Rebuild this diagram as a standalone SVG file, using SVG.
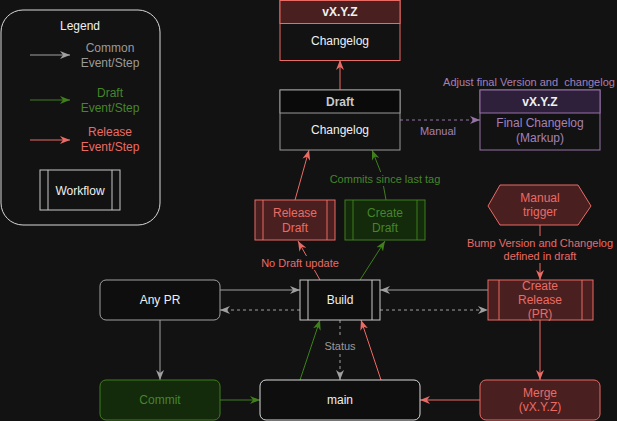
<svg xmlns="http://www.w3.org/2000/svg" width="617" height="421" viewBox="0 0 617 421">
<defs>
<style>
text{font-family:"Liberation Sans",Arial,sans-serif;font-size:12px;text-anchor:middle;dominant-baseline:central}
.lbl{font-size:11px}
.b{font-weight:bold}
.w{fill:#f0f0f0}
.g{fill:#9a9a9a}
.gr{fill:#46852a}
.r{fill:#ea6b66}
.p{fill:#a680b8}
.ln{fill:none;stroke-width:1}
.lg{stroke:#a0a0a0}
.lgr{stroke:#3f7f1c}
.lr{stroke:#ea6b66}
.lp{stroke:#9673a6}
.dash{stroke-dasharray:3 3}
.redbox{fill:#4a1f1f;stroke:#ea6b66}
.grnbox{fill:#132a0b;stroke:#3f7f1c}
.plain{fill:#0e0e0e;stroke:#c8c8c8}
</style>
<marker id="ag" markerWidth="10" markerHeight="8" refX="10" refY="4" orient="auto" markerUnits="userSpaceOnUse"><path d="M0,0 L10,4 L0,8 L3,4 Z" fill="#a0a0a0"/></marker>
<marker id="agr" markerWidth="10" markerHeight="8" refX="10" refY="4" orient="auto" markerUnits="userSpaceOnUse"><path d="M0,0 L10,4 L0,8 L3,4 Z" fill="#3f7f1c"/></marker>
<marker id="ar" markerWidth="10" markerHeight="8" refX="10" refY="4" orient="auto" markerUnits="userSpaceOnUse"><path d="M0,0 L10,4 L0,8 L3,4 Z" fill="#ea6b66"/></marker>
<marker id="ap" markerWidth="10" markerHeight="8" refX="10" refY="4" orient="auto" markerUnits="userSpaceOnUse"><path d="M0,0 L10,4 L0,8 L3,4 Z" fill="#9673a6"/></marker>
</defs>
<rect width="617" height="421" fill="#121212"/>

<g id="legend">
<rect x="1" y="10" width="159" height="215" rx="22" fill="none" stroke="#d8d8d8"/>
<text x="80" y="26" class="w">Legend</text>
<path d="M30,55 H70" class="ln lg" marker-end="url(#ag)"/>
<text x="110" y="48" class="g">Common</text><text x="110" y="63" class="g">Event/Step</text>
<path d="M30,100 H70" class="ln lgr" marker-end="url(#agr)"/>
<text x="110" y="93" class="gr">Draft</text><text x="110" y="108" class="gr">Event/Step</text>
<path d="M30,140 H70" class="ln lr" marker-end="url(#ar)"/>
<text x="110" y="132" class="r">Release</text><text x="110" y="147" class="r">Event/Step</text>
<rect x="40" y="170" width="80" height="40" fill="none" stroke="#c8c8c8"/>
<path d="M48,170 V210 M112,170 V210" stroke="#c8c8c8"/>
<text x="80" y="191" class="w">Workflow</text>
</g>

<g id="connectors">
<path d="M340,90 V60" class="ln lr" marker-end="url(#ar)"/>
<path d="M400,120 H480" class="ln lp dash" marker-end="url(#ap)"/>
<text x="438" y="131" class="lbl p">Manual</text>
<path d="M295,200 L309,150" class="ln lr" marker-end="url(#ar)"/>
<path d="M386,200 L383.5,186 M380.7,172 L372,150" class="ln lgr" marker-end="url(#agr)"/>
<text x="385" y="179" class="lbl gr">Commits since last tag</text>
<path d="M320,280 L314.4,270 M306.5,256 L298,241" class="ln lr" marker-end="url(#ar)"/>
<text x="300" y="263" class="lbl r">No Draft update</text>
<path d="M360,280 L385,241" class="ln lgr" marker-end="url(#agr)"/>
<path d="M220,290 H300" class="ln lg" marker-end="url(#ag)"/>
<path d="M300,310 H220" class="ln lg dash" marker-end="url(#ag)"/>
<path d="M488,290 H380" class="ln lg" marker-end="url(#ag)"/>
<path d="M380,310 H488" class="ln lg dash" marker-end="url(#ag)"/>
<path d="M540,225 V236 M540,263 V280" class="ln lr" marker-end="url(#ar)"/>
<text x="540" y="243" class="lbl r">Bump Version and Changelog</text>
<text x="540" y="256" class="lbl r">defined in draft</text>
<path d="M540,320 V380" class="ln lr" marker-end="url(#ar)"/>
<path d="M480,400 H420" class="ln lr" marker-end="url(#ar)"/>
<path d="M160,320 V380" class="ln lg" marker-end="url(#ag)"/>
<path d="M220,400 H260" class="ln lgr" marker-end="url(#agr)"/>
<path d="M300,380 L320,320" class="ln lgr" marker-end="url(#agr)"/>
<path d="M381,380 L361,320" class="ln lr" marker-end="url(#ar)"/>
<path d="M340,320 V338 M340,354 V380" class="ln lg dash" marker-end="url(#ag)"/>
<text x="340" y="346" class="lbl g">Status</text>
<text x="529" y="82" class="lbl p" style="white-space:pre">Adjust final Version and  changelog</text>
</g>

<g id="release-version">
<rect x="280" y="0.5" width="120" height="60" fill="#121212" stroke="#ea6b66"/>
<rect x="280" y="0.5" width="120" height="23" fill="#4a1f1f" stroke="#ea6b66"/>
<text x="340" y="12" class="b w">vX.Y.Z</text>
<text x="340" y="41" class="w">Changelog</text>
</g>

<g id="draft">
<rect x="280" y="90" width="120" height="60" fill="#121212" stroke="#999"/>
<rect x="280" y="90" width="120" height="23" fill="#0a0a0a" stroke="#999"/>
<text x="340" y="102" class="b" fill="#c8c8c8">Draft</text>
<text x="340" y="130" class="w">Changelog</text>
</g>

<g id="final">
<rect x="480" y="90" width="120" height="60" fill="#121212" stroke="#9673a6"/>
<rect x="480" y="90" width="120" height="23" fill="#2e1f3b" stroke="#9673a6"/>
<text x="540" y="102" class="b w">vX.Y.Z</text>
<text x="540" y="123" class="p">Final Changelog</text>
<text x="540" y="138" class="p">(Markup)</text>
</g>

<g id="release-draft">
<rect x="255" y="200" width="80" height="40" class="redbox"/>
<path d="M263,200 V240 M327,200 V240" stroke="#ea6b66"/>
<text x="295" y="213" class="r">Release</text>
<text x="295" y="228" class="r">Draft</text>
</g>

<g id="create-draft">
<rect x="345" y="200" width="80" height="40" class="grnbox"/>
<path d="M353,200 V240 M417,200 V240" stroke="#3f7f1c"/>
<text x="385" y="213" class="gr">Create</text>
<text x="385" y="228" class="gr">Draft</text>
</g>

<g id="manual-trigger">
<path d="M488,206 L500,185 H578 L591,206 L578,225 H500 Z" class="redbox"/>
<text x="540" y="198" class="r">Manual</text>
<text x="540" y="212" class="r">trigger</text>
</g>

<g id="any-pr">
<rect x="100" y="280" width="120" height="40" rx="6" fill="#0e0e0e" stroke="#a0a0a0"/>
<text x="160" y="300" class="w">Any PR</text>
</g>

<g id="build">
<rect x="300" y="280" width="80" height="40" class="plain"/>
<path d="M308,280 V320 M372,280 V320" stroke="#c8c8c8"/>
<text x="340" y="300" class="w">Build</text>
</g>

<g id="create-release">
<rect x="488" y="280" width="105" height="40" class="redbox"/>
<path d="M499,280 V320 M582,280 V320" stroke="#ea6b66"/>
<text x="540" y="286" class="r">Create</text>
<text x="540" y="300" class="r">Release</text>
<text x="540" y="314" class="r">(PR)</text>
</g>

<g id="commit">
<rect x="100" y="380" width="120" height="40" rx="6" class="grnbox"/>
<text x="160" y="400" class="gr">Commit</text>
</g>

<g id="main">
<rect x="260" y="380" width="160" height="40" rx="6" fill="#0e0e0e" stroke="#d8d8d8"/>
<text x="340" y="400" class="w">main</text>
</g>

<g id="merge">
<rect x="480" y="380" width="120" height="40" rx="6" class="redbox"/>
<text x="540" y="393" class="r">Merge</text>
<text x="540" y="407" class="r">(vX.Y.Z)</text>
</g>
</svg>
